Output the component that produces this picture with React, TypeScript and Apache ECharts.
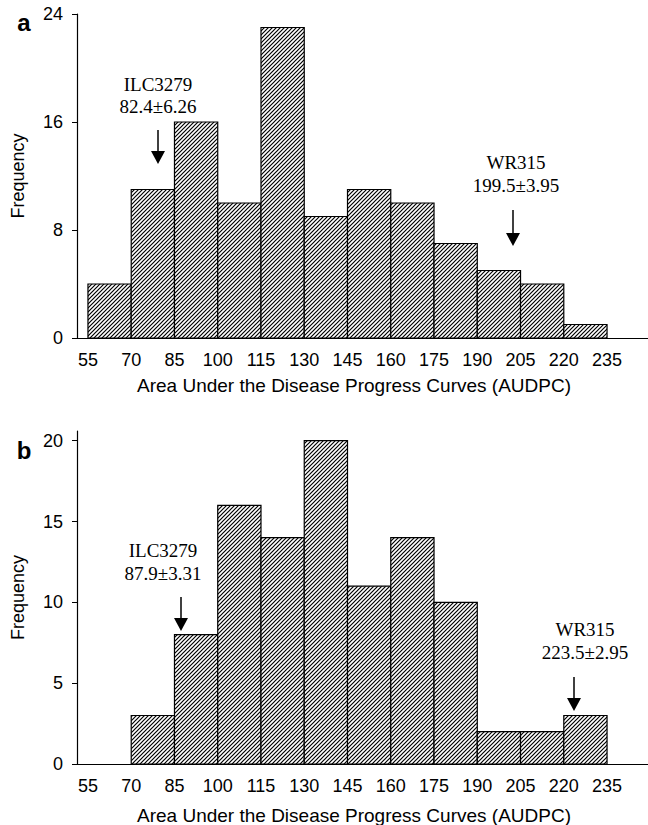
import React, { useEffect, useRef } from "react";
import * as echarts from "echarts";

// Bin edges (AUDPC classes) and tick labels
const binEdges = [55, 70, 85, 100, 115, 130, 145, 160, 175, 190, 205, 220, 235];
// Frequencies per bin, panel a and panel b
const freqA = [4, 11, 16, 10, 23, 9, 11, 10, 7, 5, 4, 1];
const freqB = [0, 3, 8, 16, 14, 20, 11, 14, 10, 2, 2, 3];
const yTicksA = [0, 8, 16, 24];
const yTicksB = [0, 5, 10, 15, 20];
const xTitle = "Area Under the Disease Progress Curves (AUDPC)";
const yTitle = "Frequency";

const SANS = "'Liberation Sans', Arial, Helvetica, sans-serif";
const SERIF = "'Liberation Serif', 'Times New Roman', serif";

function makeHatch(): string {
  const s = 4;
  const c = document.createElement("canvas");
  c.width = s;
  c.height = s;
  const ctx = c.getContext("2d")!;
  ctx.fillStyle = "#fff";
  ctx.fillRect(0, 0, s, s);
  ctx.strokeStyle = "#000";
  ctx.lineWidth = 1.2;
  ctx.beginPath();
  ctx.moveTo(0, s);
  ctx.lineTo(s, 0);
  ctx.moveTo(-1, 1);
  ctx.lineTo(1, -1);
  ctx.moveTo(s - 1, s + 1);
  ctx.lineTo(s + 1, s - 1);
  ctx.stroke();
  return c.toDataURL();
}

function arrow(x: number, y1: number, y2: number) {
  return [
    { type: "line", shape: { x1: x, y1: y1, x2: x, y2: y2 - 10 }, style: { stroke: "#000", lineWidth: 1.5 } },
    { type: "polygon", shape: { points: [[x - 7, y2 - 13], [x + 7, y2 - 13], [x, y2]] }, style: { fill: "#000" } },
  ];
}

function label(x: number, y: number, text: string, font: string, size: number, weight = "normal") {
  return {
    type: "text",
    x,
    y,
    style: { text, fill: "#000", font: `${weight} ${size}px ${font}`, align: "center", verticalAlign: "middle" },
  };
}

export default function App() {
  const ref = useRef<HTMLDivElement>(null);
  useEffect(() => {
    if (!ref.current) return;
    const chart = echarts.init(ref.current, undefined, { renderer: "svg" });
    const hatch = { image: makeHatch(), repeat: "repeat", imageWidth: 4, imageHeight: 4 };

    const toData = (f: number[]) => f.map((v, i) => [binEdges[i], binEdges[i + 1], v]);

    const renderItem = (params: any, api: any) => {
      const s = api.value(0);
      const e = api.value(1);
      const v = api.value(2);
      if (!v) return null;
      const p0 = api.coord([s, v]);
      const p1 = api.coord([e, 0]);
      return {
        type: "rect",
        shape: { x: p0[0], y: p0[1], width: p1[0] - p0[0], height: p1[1] - p0[1] },
        style: { fill: hatch, stroke: "#000", lineWidth: 1.2 },
      };
    };

    const xAxisBase = (gridIndex: number) => ({
      type: "value",
      gridIndex,
      min: 51.2,
      max: 249.2,
      axisLine: { show: true, lineStyle: { color: "#000", width: 1.2 } },
      axisTick: { show: false },
      splitLine: { show: false },
      axisLabel: { customValues: binEdges, color: "#000", fontSize: 18, fontFamily: SANS, margin: 13 },
    });
    const yAxisBase = (gridIndex: number, max: number, ticks: number[]) => ({
      type: "value",
      gridIndex,
      min: 0,
      max,
      name: yTitle,
      nameLocation: "middle",
      nameGap: 50,
      nameTextStyle: { color: "#000", fontSize: 18, fontFamily: SANS },
      axisLine: { show: true, lineStyle: { color: "#000", width: 1.2 } },
      axisTick: { show: true, length: 5, customValues: ticks, lineStyle: { color: "#000", width: 1 } },
      splitLine: { show: false },
      axisLabel: { customValues: ticks, color: "#000", fontSize: 18, fontFamily: SANS, margin: 14 },
    });

    chart.setOption({
      animation: false,
      backgroundColor: "#fff",
      grid: [
        { left: 77, right: 0, top: 14, height: 324 },
        { left: 77, right: 0, top: 431, height: 333 },
      ],
      xAxis: [xAxisBase(0), xAxisBase(1)],
      yAxis: [yAxisBase(0, 24, yTicksA), yAxisBase(1, 20.6, yTicksB)],
      series: [
        { type: "custom", xAxisIndex: 0, yAxisIndex: 0, renderItem, encode: { x: [0, 1], y: 2 }, data: toData(freqA) },
        { type: "custom", xAxisIndex: 1, yAxisIndex: 1, renderItem, encode: { x: [0, 1], y: 2 }, data: toData(freqB) },
      ],
      graphic: [
        label(24, 22, "a", SANS, 24, "bold"),
        label(24, 450, "b", SANS, 24, "bold"),
        label(354, 385, xTitle, SANS, 19),
        label(354, 815, xTitle, SANS, 19),
        label(158, 84, "ILC3279", SERIF, 19),
        label(158, 106, "82.4±6.26", SERIF, 19),
        ...arrow(158, 130, 164),
        label(516, 162, "WR315", SERIF, 19),
        label(516, 185, "199.5±3.95", SERIF, 19),
        ...arrow(513, 210, 246),
        label(163, 550, "ILC3279", SERIF, 19),
        label(163, 573, "87.9±3.31", SERIF, 19),
        ...arrow(181, 597, 631),
        label(585, 629, "WR315", SERIF, 19),
        label(585, 652, "223.5±2.95", SERIF, 19),
        ...arrow(574, 677, 711),
      ],
    });
    return () => chart.dispose();
  }, []);
  return <div ref={ref} style={{ position: "absolute", left: 0, top: 0, width: 648, height: 825 }} />;
}
